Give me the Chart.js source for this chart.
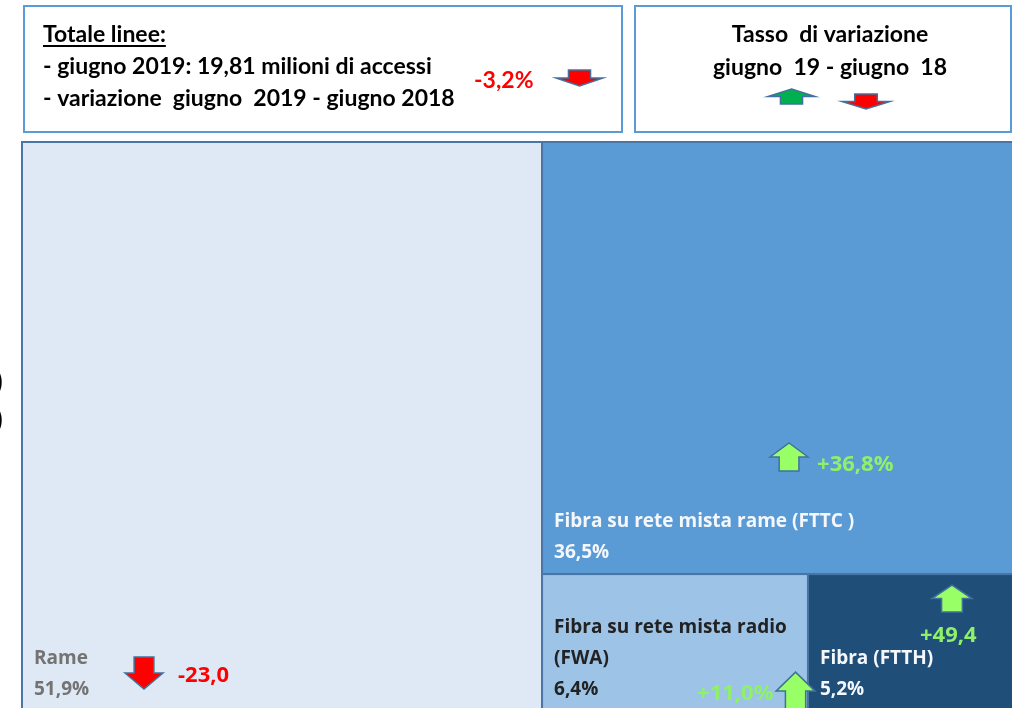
<!DOCTYPE html>
<html>
<head>
<meta charset="utf-8">
<script src="https://cdn.jsdelivr.net/npm/chart.js@4.4.0/dist/chart.umd.min.js"></script>
<style>
  html, body { margin: 0; background: #fff; }
  canvas { display: block; }
</style>
</head>
<body>
<canvas id="chart" width="1012" height="708"></canvas>
<script>
// data
const categories = ["Rame", "Fibra su rete mista rame (FTTC )", "Fibra su rete mista radio (FWA)", "Fibra (FTTH)"];
const shares = [51.9, 36.5, 6.4, 5.2];            // % of total lines, giugno 2019
const changes = [-23.0, 36.8, 11.0, 49.4];        // variation giugno 19 - giugno 18
const changeLabels = ["-23,0", "+36,8%", "+11,0%", "+49,4"];
const totalLines = ["Totale linee:", "- giugno 2019: 19,81 milioni di accessi", "- variazione  giugno  2019 - giugno 2018"];
const totalChange = "-3,2%";
const legendLines = ["Tasso  di variazione", "giugno  19 - giugno  18"];

// styles
const cellColors = ["#dee9f5", "#5b9bd5", "#9dc3e6", "#1f4e79"];
const textColors = ["#737373", "#f4f7fb", "#222222", "#f4f7fb"];
const GREEN = "#8ff06a", RED = "#ff0000", OUTLINE = "#41719c";
const labelFont = 'bold 19px "Open Sans"';
const changeFont = 'bold 22px "Open Sans"';
const headFont = 'bold 23px Lato';
// where each change arrow/label sits, relative to its cell (px)
const marks = [
  { ax: 103, ay: 515, aw: 38, ah: 32, lx: 156, ly: 540 },
  { ax: 228, ay: 301, aw: 38, ah: 28, lx: 275, ly: 329 },
  { ax: 234, ay: 98, aw: 39, ah: 38, lx: 155, ly: 126 },
  { ax: 124, ay: 11, aw: 40, ah: 27, lx: 112, ly: 68 }
];

// slice-and-dice layout in data units (0..100 on both axes)
function sliceDice(values, x0, y0, x1, y1) {
  const out = [];
  let rest = values.reduce((a, b) => a + b, 0);
  let horizontal = true;
  values.forEach((v, i) => {
    if (i === values.length - 1) { out.push({ x0, y0, x1, y1 }); return; }
    const f = v / rest;
    if (horizontal) { const xm = x0 + (x1 - x0) * f; out.push({ x0, y0, x1: xm, y1 }); x0 = xm; }
    else { const ym = y0 + (y1 - y0) * f; out.push({ x0, y0, x1, y1: ym }); y0 = ym; }
    rest -= v;
    horizontal = !horizontal;
  });
  return out;
}

function blockArrow(ctx, x, y, w, h, up, fill, headFrac, shaftFrac) {
  const cx = x + w / 2, sw = w * shaftFrac / 2, hh = h * headFrac;
  ctx.beginPath();
  if (up) {
    ctx.moveTo(cx, y); ctx.lineTo(x + w, y + hh); ctx.lineTo(cx + sw, y + hh);
    ctx.lineTo(cx + sw, y + h); ctx.lineTo(cx - sw, y + h); ctx.lineTo(cx - sw, y + hh);
    ctx.lineTo(x, y + hh);
  } else {
    ctx.moveTo(cx - sw, y); ctx.lineTo(cx + sw, y); ctx.lineTo(cx + sw, y + h - hh);
    ctx.lineTo(x + w, y + h - hh); ctx.lineTo(cx, y + h); ctx.lineTo(x, y + h - hh);
    ctx.lineTo(cx - sw, y + h - hh);
  }
  ctx.closePath();
  ctx.fillStyle = fill; ctx.fill();
  ctx.lineWidth = 1.5; ctx.strokeStyle = OUTLINE; ctx.stroke();
}

function wrap(ctx, text, maxW) {
  const words = text.split(" ");
  const lines = [];
  let line = "";
  words.forEach(w => {
    const t = line ? line + " " + w : w;
    if (line && ctx.measureText(t).width > maxW) { lines.push(line); line = w; }
    else line = t;
  });
  lines.push(line);
  return lines;
}

const treemapPlugin = {
  id: "treemapCells",
  beforeDatasetsDraw(chart) {
    const { ctx, scales: { x, y } } = chart;
    const cells = sliceDice(shares, 0, 0, 100, 100);
    ctx.save();
    cells.forEach((c, i) => {
      const px0 = x.getPixelForValue(c.x0), px1 = x.getPixelForValue(c.x1);
      const py0 = y.getPixelForValue(c.y0), py1 = y.getPixelForValue(c.y1);
      ctx.fillStyle = cellColors[i];
      ctx.fillRect(px0, py0, px1 - px0, py1 - py0);
      ctx.lineWidth = 2;
      ctx.strokeStyle = "#4a76a6";
      ctx.strokeRect(px0, py0, px1 - px0, py1 - py0);
    });
    cells.forEach((c, i) => {
      const px0 = x.getPixelForValue(c.x0), px1 = x.getPixelForValue(c.x1);
      const py0 = y.getPixelForValue(c.y0), py1 = y.getPixelForValue(c.y1);
      // label + share, anchored at the bottom of the cell
      ctx.font = labelFont;
      ctx.fillStyle = textColors[i];
      ctx.textAlign = "left"; ctx.textBaseline = "alphabetic";
      const lines = wrap(ctx, categories[i], px1 - px0 - 20);
      lines.push(shares[i].toFixed(1).replace(".", ",") + "%");
      const bottom = Math.min(py1, chart.height + 3) - 16;
      lines.forEach((l, k) => ctx.fillText(l, px0 + 12, bottom - (lines.length - 1 - k) * 31));
    });
    cells.forEach((c, i) => {
      const px0 = x.getPixelForValue(c.x0), py0 = y.getPixelForValue(c.y0);
      const m = marks[i], up = changes[i] >= 0;
      blockArrow(ctx, px0 + m.ax, py0 + m.ay, m.aw, m.ah, up, up ? "#99ff66" : RED, 0.5, 0.52);
      ctx.font = changeFont;
      ctx.fillStyle = up ? GREEN : RED;
      ctx.fillText(changeLabels[i], px0 + m.lx, py0 + m.ly);
    });
    ctx.restore();
  },
  afterDraw(chart) {
    const ctx = chart.ctx;
    ctx.save();
    // header boxes
    ctx.lineWidth = 2;
    ctx.strokeStyle = "#5b9bd5";
    ctx.strokeRect(24, 6, 598, 126);
    ctx.strokeRect(635, 6, 376, 126);
    ctx.fillStyle = "#000";
    ctx.font = headFont;
    ctx.textAlign = "left"; ctx.textBaseline = "alphabetic";
    ctx.fillText(totalLines[0], 43, 42);
    const uw = ctx.measureText(totalLines[0]).width;
    ctx.fillRect(43, 45, uw, 2);
    ctx.fillText(totalLines[1], 43, 74);
    ctx.fillText(totalLines[2], 43, 106);
    ctx.fillStyle = RED;
    ctx.fillText(totalChange, 474, 88);
    blockArrow(ctx, 556, 70, 47, 16, false, RED, 0.5, 0.47);
    // legend
    ctx.fillStyle = "#000";
    ctx.textAlign = "center";
    ctx.fillText(legendLines[0], 830, 42);
    ctx.fillText(legendLines[1], 830, 75);
    blockArrow(ctx, 768, 89, 47, 15, true, "#00b050", 0.5, 0.47);
    blockArrow(ctx, 842, 94, 48, 15, false, RED, 0.5, 0.47);
    // clipped text fragments at the left edge
    ctx.fillStyle = "#000";
    ctx.textAlign = "left";
    ctx.font = 'bold 24px Lato';
    ctx.fillText(")", -4, 390);
    ctx.fillText(")", -4, 428);
    ctx.restore();
  }
};

const draw = () => new Chart(document.getElementById("chart"), {
  type: "scatter",
  data: { datasets: [{ data: [] }] },
  options: {
    responsive: false,
    animation: false,
    devicePixelRatio: 1,
    layout: { padding: { left: 22, top: 142, right: 0, bottom: 0 } },
    plugins: { legend: { display: false }, tooltip: { enabled: false } },
    scales: {
      x: { type: "linear", display: false, min: 0, max: 98.8 },
      y: { type: "linear", display: false, reverse: true, min: 0, max: 99.4 }
    }
  },
  plugins: [treemapPlugin]
});

Promise.all([labelFont, changeFont, headFont].map(f => document.fonts.load(f)))
  .then(draw, draw);
</script>
</body>
</html>
